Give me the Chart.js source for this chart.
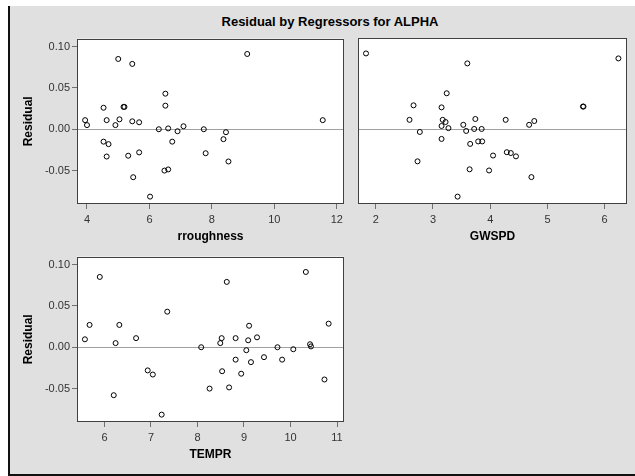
<!DOCTYPE html>
<html>
<head>
<meta charset="utf-8">
<title>Residual by Regressors for ALPHA</title>
<script src="https://cdn.jsdelivr.net/npm/chart.js@4"></script>
<style>
  body { margin: 0; width: 635px; height: 476px; background: #fff; position: relative; overflow: hidden; font-family: "Liberation Sans", Arial, sans-serif; }
  .frame { position: absolute; left: 8px; top: 6px; width: 627px; height: 470px; box-sizing: border-box; background: #e0e0e0; border-left: 2px solid #111; border-bottom: 2px solid #111; }
  .title { position: absolute; left: 30px; width: 600px; top: 14px; line-height: 16px; text-align: center; font-weight: bold; font-size: 13px; color: #000; }
  canvas { position: absolute; }
</style>
</head>
<body>
<div class="frame"></div>
<div class="title">Residual by Regressors for ALPHA</div>
<canvas id="roughChart" width="340" height="215" style="left:10px;top:30px"></canvas>
<canvas id="gwspdChart" width="285" height="215" style="left:350px;top:30px"></canvas>
<canvas id="temprChart" width="340" height="215" style="left:10px;top:248px"></canvas>
<script>
const residual = [0.091, 0.085, 0.079, 0.043, 0.0285, 0.027, 0.027, 0.026, 0.012, 0.011,
  0.011, 0.011, 0.0096, 0.0084, 0.005, 0.005, 0.0036, 0.001, 0.0, 0.0,
  -0.0024, -0.0036, -0.012, -0.015, -0.015, -0.018, -0.028, -0.029, -0.032, -0.033,
  -0.039, -0.0486, -0.050, -0.058, -0.0815];
const rroughness = [9.13, 5.0, 5.45, 6.51, 6.51, 5.17, 5.2, 4.53, 5.04, 3.94,
  4.63, 11.55, 5.45, 5.67, 4.0, 4.91, 7.09, 6.6, 6.3, 7.74,
  6.9, 8.45, 8.37, 4.53, 6.73, 4.69, 5.67, 7.8, 5.32, 4.63,
  8.53, 6.6, 6.48, 5.48, 6.02];
const gwspd = [1.83, 6.24, 3.6, 3.24, 2.66, 5.62, 5.63, 3.15, 3.74, 2.59,
  3.17, 4.27, 4.77, 3.22, 4.68, 3.53, 3.15, 3.27, 3.72, 3.85,
  3.58, 2.77, 3.15, 3.79, 3.86, 3.65, 4.29, 4.36, 4.05, 4.45,
  2.73, 3.64, 3.98, 4.72, 3.43];
const tempr = [10.33, 5.9, 8.63, 7.35, 10.82, 5.68, 6.32, 9.11, 9.28, 6.68,
  8.52, 8.82, 5.58, 9.09, 6.24, 8.49, 10.42, 10.44, 8.08, 9.72,
  10.06, 9.05, 9.43, 8.82, 9.82, 9.15, 6.93, 8.53, 8.94, 7.04,
  10.73, 8.68, 8.26, 6.2, 7.23];

const residTicks = [-0.05, 0.0, 0.05, 0.10];
const roughTicks = [4, 6, 8, 10, 12];
const gwspdTicks = [2, 3, 4, 5, 6];
const temprTicks = [6, 7, 8, 9, 10, 11];

const FONT = '"Liberation Sans", Arial, sans-serif';

// white plot area, zero reference line and the box round it
const panelFrame = {
    id: 'panelFrame',
    beforeDraw(chart) {
        const { ctx, chartArea: a } = chart;
        ctx.save();
        ctx.fillStyle = '#fff';
        ctx.fillRect(a.left, a.top, a.right - a.left, a.bottom - a.top);
        ctx.restore();
    },
    beforeDatasetsDraw(chart) {
        const { ctx, chartArea: a } = chart;
        const y0 = Math.round(chart.scales.y.getPixelForValue(0)) + 0.5;
        ctx.save();
        ctx.strokeStyle = '#a0a0a0';
        ctx.lineWidth = 1;
        ctx.beginPath();
        ctx.moveTo(a.left, y0);
        ctx.lineTo(a.right, y0);
        ctx.stroke();
        ctx.restore();
    },
    afterDatasetsDraw(chart) {
        const { ctx, chartArea: a } = chart;
        ctx.save();
        ctx.strokeStyle = '#404040';
        ctx.lineWidth = 1;
        ctx.strokeRect(Math.round(a.left) + 0.5, Math.round(a.top) + 0.5,
            Math.round(a.right - a.left) - 1, Math.round(a.bottom - a.top) - 1);
        ctx.restore();
    }
};

function makePanel(id, xValues, xTicks, xMin, xMax, xTitle, showY) {
    const points = xValues.map((x, i) => ({ x: x, y: residual[i] }));
    return new Chart(document.getElementById(id), {
        type: 'scatter',
        data: {
            datasets: [{
                data: points,
                pointStyle: 'circle',
                pointRadius: 2.5,
                pointBorderWidth: 1,
                borderColor: '#000',
                backgroundColor: 'rgba(0,0,0,0)'
            }]
        },
        options: {
            responsive: false,
            animation: false,
            layout: { padding: showY ? { left: 4, top: 8, right: 6, bottom: 0 } : { left: 8, top: 8, right: 8, bottom: 0 } },
            plugins: { legend: { display: false }, tooltip: { enabled: false } },
            scales: {
                x: {
                    type: 'linear',
                    min: xMin,
                    max: xMax,
                    afterBuildTicks: s => { s.ticks = xTicks.map(v => ({ value: v })); },
                    afterFit: s => { s.height = 41; },
                    grid: { drawOnChartArea: false, drawTicks: true, tickLength: 5, color: '#707070' },
                    border: { display: false },
                    ticks: { padding: 4, color: '#333', font: { family: FONT, size: 11 }, maxRotation: 0 },
                    title: { display: true, text: xTitle, color: '#000', padding: { top: 0, bottom: 1 }, font: { family: FONT, size: 12, weight: 'bold' } }
                },
                y: {
                    type: 'linear',
                    display: showY,
                    min: -0.0904,
                    max: 0.1096,
                    afterBuildTicks: s => { s.ticks = residTicks.map(v => ({ value: v })); },
                    afterFit: s => { if (showY) s.width = 63; },
                    grid: { drawOnChartArea: false, drawTicks: true, tickLength: 5, color: '#707070' },
                    border: { display: false },
                    ticks: { padding: 2, color: '#333', font: { family: FONT, size: 11 }, callback: v => v.toFixed(2) },
                    title: { display: true, text: 'Residual', color: '#000', padding: { top: 7, bottom: 0 }, font: { family: FONT, size: 12, weight: 'bold' } }
                }
            }
        },
        plugins: [panelFrame]
    });
}

document.addEventListener('DOMContentLoaded', () => {
    makePanel('roughChart', rroughness, roughTicks, 3.68, 12.23, 'rroughness', true);
    makePanel('gwspdChart', gwspd, gwspdTicks, 1.69, 6.39, 'GWSPD', false);
    makePanel('temprChart', tempr, temprTicks, 5.41, 11.15, 'TEMPR', true);
});
</script>
</body>
</html>
